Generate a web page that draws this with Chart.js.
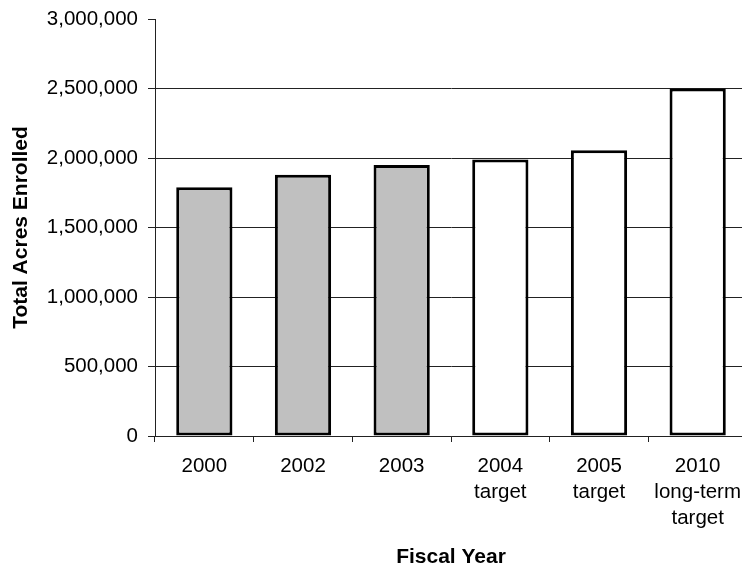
<!DOCTYPE html>
<html>
<head>
<meta charset="utf-8">
<title>Total Acres Enrolled</title>
<script src="https://cdn.jsdelivr.net/npm/chart.js@4.4.1/dist/chart.umd.min.js"></script>
<style>
  html, body { margin: 0; padding: 0; background: #fff; overflow: hidden; }
  #wrap { width: 747px; height: 567px; }
</style>
</head>
<body>
<div id="wrap"><canvas id="acres" width="747" height="567"></canvas></div>
<script>
// fiscal years (multi-line labels for the targets)
const years = [
    ['2000'],
    ['2002'],
    ['2003'],
    ['2004', 'target'],
    ['2005', 'target'],
    ['2010', 'long-term', 'target']
];
const acres = [1790000, 1880000, 1950000, 1990000, 2055000, 2500000];
// actual years are shaded, targets are left empty
const isTarget = [false, false, false, true, true, true];

const yMin = 0;
const yMax = 3000000;
const yStep = 500000;

const FONT = 'Liberation Sans, Arial, Helvetica, sans-serif';
const LINE = '#222';

const ctx = document.getElementById('acres').getContext('2d');
window.charts = window.charts || {};
window.charts.acres = new Chart(ctx, {
    type: 'bar',
    data: {
        labels: years,
        datasets: [{
            data: acres,
            backgroundColor: isTarget.map(t => t ? '#ffffff' : '#c0c0c0'),
            borderColor: '#000',
            borderWidth: 3,
            borderSkipped: false,
            barPercentage: 0.57,
            categoryPercentage: 1.0
        }]
    },
    options: {
        responsive: false,
        animation: false,
        layout: { padding: { top: 19, right: 0, bottom: 0, left: 0 } },
        plugins: {
            legend: { display: false },
            tooltip: { enabled: false },
            title: { display: false }
        },
        scales: {
            x: {
                offset: true,
                grid: {
                    offset: true,
                    drawOnChartArea: false,
                    drawTicks: true,
                    tickLength: 6,
                    color: LINE
                },
                border: { display: true, color: LINE, width: 1 },
                ticks: {
                    color: '#000',
                    padding: 11,
                    maxRotation: 0,
                    autoSkip: false,
                    font: { family: FONT, size: 20.5, lineHeight: 1.27 }
                },
                title: {
                    display: true,
                    text: 'Fiscal Year',
                    color: '#000',
                    padding: { top: 0, bottom: -3 },
                    font: { family: FONT, size: 21, weight: 'bold' }
                },
                afterFit: (scale) => {
                    scale.height = 131;
                    scale.paddingLeft = 0;
                    scale.paddingRight = 0;
                }
            },
            y: {
                min: yMin,
                max: yMax,
                grid: {
                    drawTicks: true,
                    tickLength: 7,
                    lineWidth: 1,
                    color: (c) => (c.tick && c.tick.value === yMax) ? 'rgba(0,0,0,0)' : LINE,
                    tickColor: LINE
                },
                border: { display: true, color: LINE, width: 1 },
                ticks: {
                    stepSize: yStep,
                    color: '#000',
                    padding: 10,
                    font: { family: FONT, size: 20.5 },
                    callback: (v) => Number(v).toLocaleString('en-US')
                },
                title: {
                    display: true,
                    text: 'Total Acres Enrolled',
                    color: '#000',
                    padding: { top: 9, bottom: 0 },
                    font: { family: FONT, size: 21, weight: 'bold' }
                },
                afterFit: (scale) => {
                    scale.width = 155;
                    scale.paddingTop = 0;
                    scale.paddingBottom = 0;
                }
            }
        }
    }
});
</script>
</body>
</html>
